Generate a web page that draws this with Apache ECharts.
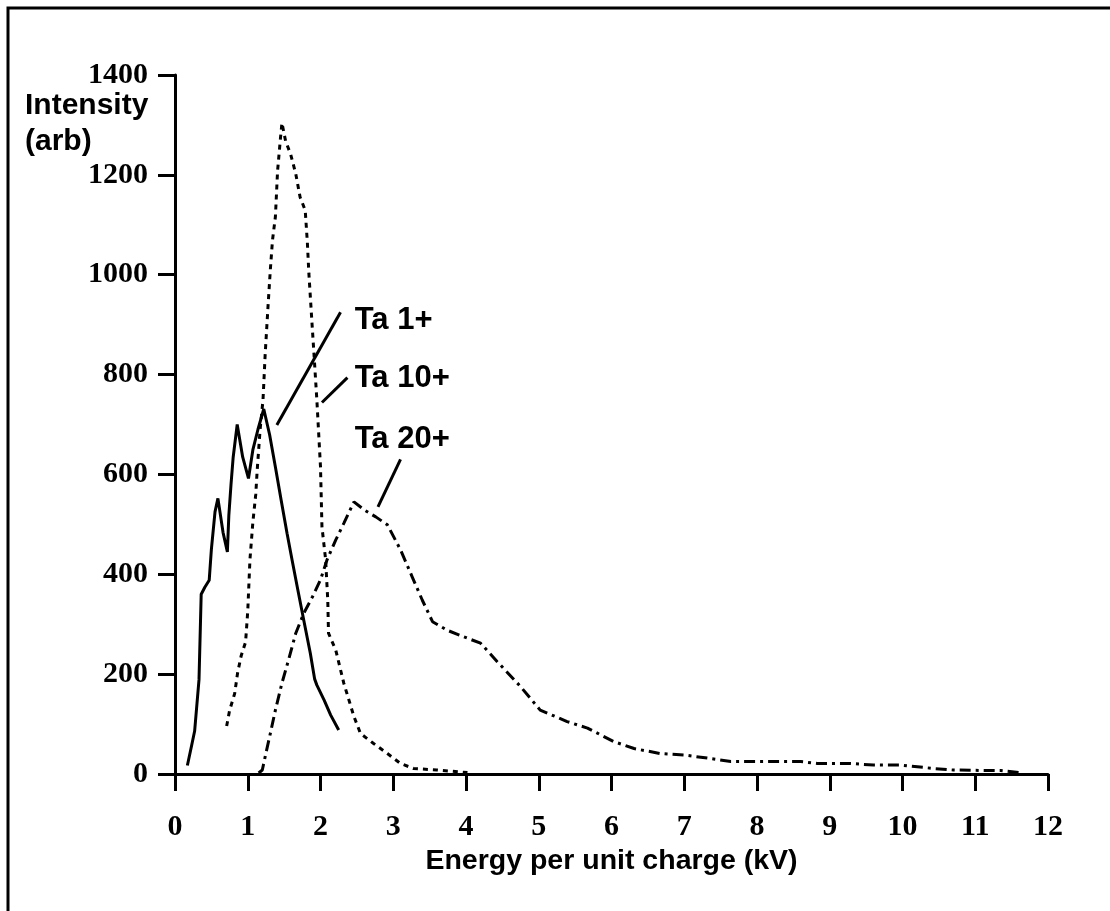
<!DOCTYPE html>
<html>
<head>
<meta charset="utf-8">
<script src="https://cdn.jsdelivr.net/npm/echarts@6/dist/echarts.min.js"></script>
<style>
  html, body { margin: 0; padding: 0; background: #fff; }
  #chart { width: 1110px; height: 911px; }
</style>
</head>
<body>
<div id="chart"></div>
<script>
// ---- data ----
var xTicks = [0,1,2,3,4,5,6,7,8,9,10,11,12];
var yTicks = [0,200,400,600,800,1000,1200,1400];

var ta1X = [0.17,0.23,0.27,0.33,0.36,0.41,0.47,0.50,0.55,0.59,0.66,0.72,0.74,0.77,0.80,0.855,0.93,1.01,1.07,1.14,1.22,1.30,1.38,1.46,1.54,1.61,1.68,1.77,1.86,1.92,1.95,2.05,2.14,2.25];
var ta1Y = [17,58,86,189,360,374,388,450,525,552,484,445,518,580,635,700,635,592,649,690,731,680,615,548,482,428,375,308,242,190,178,148,118,88];

var ta10X = [0.71,0.75,0.82,0.86,0.91,0.97,1.00,1.03,1.07,1.11,1.13,1.17,1.21,1.24,1.28,1.31,1.34,1.38,1.41,1.45,1.47,1.52,1.59,1.66,1.72,1.79,1.82,1.84,1.88,1.91,1.95,2.00,2.02,2.07,2.10,2.11,2.21,2.32,2.46,2.55,2.73,2.92,3.10,3.28,3.60,4.02];
var ta10Y = [96,127,161,202,237,264,326,429,504,560,609,690,750,842,940,1009,1069,1116,1208,1274,1304,1268,1241,1202,1155,1129,1063,1003,910,842,749,615,495,430,348,282,248,182,115,81,61,41,21,11,8,3];

var ta20X = [1.15,1.20,1.24,1.31,1.38,1.47,1.56,1.66,1.77,1.89,2.00,2.09,2.21,2.32,2.46,2.60,2.76,2.92,3.10,3.26,3.40,3.54,3.74,4.02,4.20,4.43,4.75,5.02,5.39,5.67,6.03,6.31,6.67,7.00,7.36,7.64,8.14,8.60,8.83,9.29,9.60,9.97,10.43,10.70,11.12,11.35,11.60];
var ta20Y = [2,8,35,81,128,182,228,282,322,355,389,429,469,502,545,529,515,499,449,395,348,305,288,272,262,225,175,128,105,92,65,51,41,38,31,25,25,25,21,21,18,18,11,8,7,7,3];

var seriesNames = ['Ta 1+', 'Ta 10+', 'Ta 20+'];
// annotation text anchor (data units) and leader line ends (data units)
var labelAt = [[2.47, 909], [2.47, 793], [2.47, 671]];
var leaders = [
  [[2.275, 925], [1.40, 699]],
  [[2.37, 794], [2.02, 744]],
  [[3.10, 630], [2.79, 535]]
];

function zip(xs, ys) { return xs.map(function (x, i) { return [x, ys[i]]; }); }

var chart = echarts.init(document.getElementById('chart'), null, { renderer: 'canvas' });

var tickFont = { fontFamily: 'Liberation Serif', fontWeight: 'bold', fontSize: 30, color: '#000' };
var sansBold = 'Liberation Sans';

function annot(i) {
  return {
    markLine: {
      silent: true, symbol: ['none', 'none'], animation: false,
      lineStyle: { color: '#000', width: 3, type: 'solid' },
      label: { show: false },
      data: [[{ coord: leaders[i][0] }, { coord: leaders[i][1] }]]
    },
    markPoint: {
      silent: true, symbol: 'circle', symbolSize: 0, animation: false,
      label: {
        show: true, position: [0, 0], align: 'left', verticalAlign: 'middle',
        formatter: seriesNames[i],
        fontFamily: sansBold, fontWeight: 'bold', fontSize: 31, color: '#000'
      },
      data: [{ coord: labelAt[i] }]
    }
  };
}

var styles = [
  { color: '#000', width: 3, type: 'solid' },
  { color: '#000', width: 3, type: [5, 5], cap: 'butt' },
  { color: '#000', width: 3, type: [11, 5, 3, 5] }
];
var datas = [zip(ta1X, ta1Y), zip(ta10X, ta10Y), zip(ta20X, ta20Y)];

var series = datas.map(function (d, i) {
  var s = {
    name: seriesNames[i], type: 'line', data: d,
    showSymbol: false, symbol: 'none', smooth: false,
    lineStyle: styles[i], animation: false, z: 3
  };
  var a = annot(i);
  s.markLine = a.markLine; s.markPoint = a.markPoint;
  return s;
});

chart.setOption({
  backgroundColor: '#fff',
  animation: false,
  grid: { left: 175, right: 62, top: 75, bottom: 137, containLabel: false },
  xAxis: {
    type: 'value', min: xTicks[0], max: xTicks[xTicks.length - 1], interval: 1,
    name: 'Energy per unit charge (kV)', nameLocation: 'middle', nameGap: 73,
    nameTextStyle: { fontFamily: sansBold, fontWeight: 'bold', fontSize: 28.5, color: '#000' },
    axisLine: { show: true, onZero: false, lineStyle: { color: '#000', width: 3 } },
    axisTick: { show: true, inside: false, length: 17, lineStyle: { color: '#000', width: 3 } },
    axisLabel: Object.assign({ margin: 38, showMaxLabel: true, showMinLabel: true,
      formatter: function (v) { return String(v); } }, tickFont),
    splitLine: { show: false }
  },
  yAxis: {
    type: 'value', min: yTicks[0], max: yTicks[yTicks.length - 1], interval: 200,
    axisLine: { show: true, onZero: false, lineStyle: { color: '#000', width: 3 } },
    axisTick: { show: true, inside: false, length: 17, lineStyle: { color: '#000', width: 3 } },
    axisLabel: Object.assign({ margin: 27, formatter: function (v) { return String(v); } }, tickFont),
    splitLine: { show: false }
  },
  graphic: [
    {
      type: 'rect', silent: true, z: 0,
      shape: { x: 8, y: 8, width: 1300, height: 1100 },
      style: { fill: 'none', stroke: '#000', lineWidth: 3 }
    },
    {
      type: 'text', silent: true, left: 25, top: 88,
      style: {
        text: 'Intensity\n(arb)', font: 'bold 30px "Liberation Sans"', fill: '#000',
        lineHeight: 36
      }
    }
  ],
  series: series
});
</script>
</body>
</html>
